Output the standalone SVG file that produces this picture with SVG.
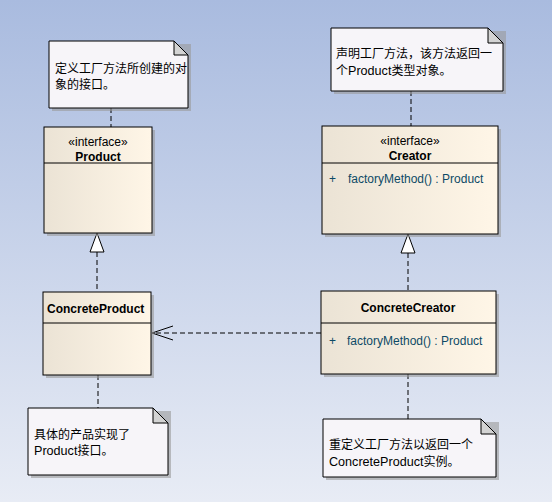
<svg xmlns="http://www.w3.org/2000/svg" width="552" height="502" viewBox="0 0 552 502">
<defs>
<linearGradient id="bg" x1="0" y1="0" x2="0" y2="1">
<stop offset="0" stop-color="#a9bbdf"/>
<stop offset="1" stop-color="#e8ecf5"/>
</linearGradient>
<linearGradient id="cls" x1="0" y1="0" x2="1" y2="0">
<stop offset="0" stop-color="#ebe3d5"/>
<stop offset="1" stop-color="#fff6e7"/>
</linearGradient>
<style>
.box{fill:url(#cls);stroke:#000;stroke-width:1}
.sh{fill:#9a9a9a;opacity:0.6}
.note{fill:#f7f5f9;stroke:#000;stroke-width:1}
.fold{fill:#d3d3d3;stroke:#000;stroke-width:1}
.ln{stroke:#000;stroke-width:1;fill:none}
.dash{stroke:#000;stroke-width:1;fill:none;stroke-dasharray:5,3}
.t{font-family:"Liberation Sans","Noto Sans CJK SC",sans-serif;font-size:12px;fill:#000}
.cj{font-family:"Liberation Sans","Noto Sans CJK SC",sans-serif;font-size:12px;fill:#000}
.a{font-size:12.6px}
.b{font-weight:bold}
.m{fill:#0d4a66}
</style>
</defs>
<rect width="552" height="502" fill="url(#bg)"/>

<g id="connectors">
<line class="dash" x1="111" y1="108" x2="111" y2="127"/>
<line class="dash" x1="411" y1="91" x2="411" y2="126"/>
<line class="dash" x1="97" y1="252" x2="97" y2="292"/>
<polygon points="97,233 90,252 104,252" fill="#fff" stroke="#000" stroke-width="1"/>
<line class="dash" x1="408" y1="253" x2="408" y2="291"/>
<polygon points="408,234 401,253 415,253" fill="#fff" stroke="#000" stroke-width="1"/>
<line class="dash" x1="321" y1="333" x2="153" y2="333"/>
<polyline class="ln" points="173,326 152,333 173,340"/>
<line class="dash" x1="98" y1="375" x2="98" y2="408"/>
<line class="dash" x1="408" y1="374" x2="408" y2="419"/>
</g>

<g id="note1">
<polygon class="sh" points="52,44 191,44 191,111 52,111"/>
<polygon class="note" points="49,41 174,41 188,55 188,108 49,108"/>
<polygon class="fold" points="174,41 188,55 174,55"/>
<text class="cj" x="55" y="73">定义工厂方法所创建的对</text>
<text class="cj" x="55" y="89">象的接口。</text>
</g>

<g id="note2">
<polygon class="sh" points="334,31 506,31 506,94 334,94"/>
<polygon class="note" points="331,28 488,28 503,43 503,91 331,91"/>
<polygon class="fold" points="488,28 503,43 488,43"/>
<text class="cj" x="336" y="58">声明工厂方法，该方法返回一</text>
<text class="cj" x="336" y="75">个<tspan class="a">Product</tspan>类型对象。</text>
</g>

<g id="Product">
<rect class="sh" x="47" y="130" width="108" height="106"/>
<rect class="box" x="44" y="127" width="108" height="106"/>
<line class="ln" x1="44" y1="163" x2="152" y2="163"/>
<text class="t" x="98" y="146" text-anchor="middle">«interface»</text>
<text class="t b" x="98" y="161" text-anchor="middle">Product</text>
</g>

<g id="Creator">
<rect class="sh" x="325" y="129" width="176" height="108"/>
<rect class="box" x="322" y="126" width="176" height="108"/>
<line class="ln" x1="322" y1="163" x2="498" y2="163"/>
<text class="t" x="410" y="145" text-anchor="middle">«interface»</text>
<text class="t b" x="410" y="160" text-anchor="middle">Creator</text>
<text class="t m" x="329" y="183">+</text>
<text class="t m" x="348" y="183">factoryMethod() : Product</text>
</g>

<g id="ConcreteProduct">
<rect class="sh" x="46" y="295" width="108" height="83"/>
<rect class="box" x="43" y="292" width="108" height="83"/>
<line class="ln" x1="43" y1="323" x2="151" y2="323"/>
<text class="t b" x="47" y="313">ConcreteProduct</text>
</g>

<g id="ConcreteCreator">
<rect class="sh" x="324" y="294" width="175" height="83"/>
<rect class="box" x="321" y="291" width="175" height="83"/>
<line class="ln" x1="321" y1="323" x2="496" y2="323"/>
<text class="t b" x="408" y="312" text-anchor="middle">ConcreteCreator</text>
<text class="t m" x="329" y="345">+</text>
<text class="t m" x="347" y="345">factoryMethod() : Product</text>
</g>

<g id="note3">
<polygon class="sh" points="31,411 171,411 171,478 31,478"/>
<polygon class="note" points="28,408 153,408 168,423 168,475 28,475"/>
<polygon class="fold" points="153,408 168,423 153,423"/>
<text class="cj" x="34" y="439">具体的产品实现了</text>
<text class="cj" x="34" y="455"><tspan class="a">Product</tspan>接口。</text>
</g>

<g id="note4">
<polygon class="sh" points="326,422 499,422 499,480 326,480"/>
<polygon class="note" points="323,419 481,419 496,434 496,477 323,477"/>
<polygon class="fold" points="481,419 496,434 481,434"/>
<text class="cj" x="329" y="449">重定义工厂方法以返回一个</text>
<text class="cj" x="329" y="466"><tspan class="a">ConcreteProduct</tspan>实例。</text>
</g>
</svg>
